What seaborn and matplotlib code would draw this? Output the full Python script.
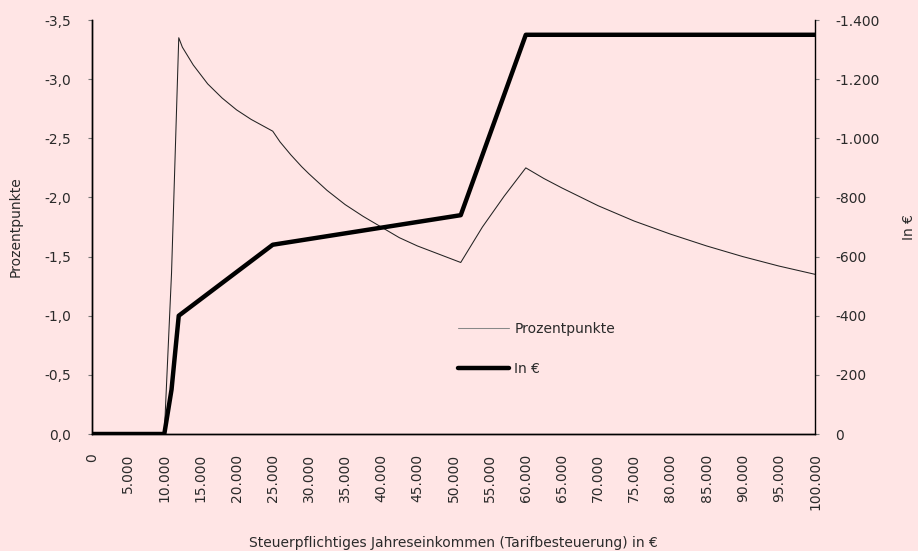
import numpy as np
import pandas as pd
import matplotlib
matplotlib.use("Agg")
import matplotlib.pyplot as plt
from matplotlib.ticker import FuncFormatter
import seaborn as sns

# Income levels (taxable annual income, €)
income_pp = [0, 5000, 10000, 11000, 12000, 12500, 13000, 13500, 14000, 15000,
             16000, 17000, 18000, 19000, 20000, 22000, 25000, 26000, 27500,
             29000, 30000, 32500, 35000, 37500, 40000, 42500, 45000, 48000,
             51000, 54000, 57000, 60000, 62500, 65000, 70000, 75000, 80000,
             85000, 90000, 95000, 100000]
# Relief in percentage points
prozentpunkte = [0.0, 0.0, 0.0, -1.36, -3.35, -3.27, -3.22, -3.17, -3.12, -3.04,
                 -2.96, -2.90, -2.84, -2.79, -2.74, -2.66, -2.56, -2.47, -2.36,
                 -2.26, -2.20, -2.06, -1.94, -1.84, -1.75, -1.66, -1.59, -1.52,
                 -1.45, -1.75, -2.01, -2.25, -2.16, -2.08, -1.93, -1.80, -1.69,
                 -1.59, -1.50, -1.42, -1.35]

income_eur = [0, 10000, 11000, 12000, 25000, 51000, 60000, 100000]
# Relief in euros
in_euro = [0, 0, -150, -400, -640, -740, -1350, -1350]

x_ticks = list(range(0, 100001, 5000))
left_ticks = [0.0, -0.5, -1.0, -1.5, -2.0, -2.5, -3.0, -3.5]
right_ticks = [0, -200, -400, -600, -800, -1000, -1200, -1400]

bg = "#FFE5E5"
sns.set_theme(style="white", rc={"axes.facecolor": bg, "figure.facecolor": bg})
plt.rcParams["font.family"] = ["DejaVu Sans"]

df_pp = pd.DataFrame({"income": income_pp, "value": prozentpunkte})
df_eur = pd.DataFrame({"income": income_eur, "value": in_euro})

fig = plt.figure(figsize=(9.18, 5.51), dpi=100)
ax = fig.add_axes([92 / 918, 1 - 434 / 551, (815 - 92) / 918, (434 - 20) / 551])
ax2 = ax.twinx()
ax2.patch.set_visible(False)

sns.lineplot(data=df_pp, x="income", y="value", ax=ax, color="#222222",
             linewidth=0.75, label="Prozentpunkte")
sns.lineplot(data=df_eur, x="income", y="value", ax=ax2, color="black",
             linewidth=3.2, label="In €")
for a in (ax, ax2):
    if a.get_legend() is not None:
        a.get_legend().remove()

ax.set_xlim(0, 100000)
ax.set_ylim(0, -3.5)
ax2.set_ylim(0, -1400)

ax.set_xticks(x_ticks)
ax.xaxis.set_major_formatter(FuncFormatter(lambda v, p: f"{int(round(v)):,}".replace(",", ".")))
ax.set_yticks(left_ticks)
ax.yaxis.set_major_formatter(FuncFormatter(
    lambda v, p: "0,0" if abs(v) < 1e-9 else f"{v:.1f}".replace(".", ",")))
ax2.set_yticks(right_ticks)
ax2.yaxis.set_major_formatter(FuncFormatter(
    lambda v, p: "0" if abs(v) < 1e-9 else f"{int(round(v)):,}".replace(",", ".")))

tick_col = "#2a2a2a"
ax.tick_params(axis="x", direction="in", length=3, width=0.8, color="#777777",
               labelrotation=90, labelsize=10, labelcolor=tick_col, pad=14)
ax.tick_params(axis="y", direction="out", length=3, width=0.8, color="#777777",
               labelsize=10, labelcolor=tick_col, pad=12, left=True)
ax2.tick_params(axis="y", direction="out", length=3, width=0.8, color="#777777",
                labelsize=10, labelcolor=tick_col, pad=11.5, right=True)

for a in (ax, ax2):
    a.spines["top"].set_visible(False)
    for s in ("left", "right", "bottom"):
        a.spines[s].set_color("black")
        a.spines[s].set_linewidth(1.0)
ax.spines["right"].set_visible(False)

ax.set_xlabel("Steuerpflichtiges Jahreseinkommen (Tarifbesteuerung) in €",
              fontsize=10, color=tick_col)
ax.xaxis.set_label_coords(0.5, (434 - 536) / 414)
ax.set_ylabel("Prozentpunkte", fontsize=10, color=tick_col)
ax.yaxis.set_label_coords((23 - 92) / 723, 0.5)
ax2.set_ylabel("In €", fontsize=10, color=tick_col, rotation=90)
ax2.yaxis.set_label_coords((902 - 92) / 723, 0.5)

h1, l1 = ax.get_legend_handles_labels()
h2, l2 = ax2.get_legend_handles_labels()
leg = fig.legend(h1 + h2, l1 + l2, loc="upper left",
                 bbox_to_anchor=(458 / 918, 1 - 322 / 551),
                 frameon=False, fontsize=10, borderpad=0, borderaxespad=0,
                 handlelength=3.7, handletextpad=0.35, labelspacing=1.85)
for t in leg.get_texts():
    t.set_color(tick_col)
leg.get_lines()[0].set_color("#888888")

fig.savefig("out.png", dpi=100, facecolor=bg)
